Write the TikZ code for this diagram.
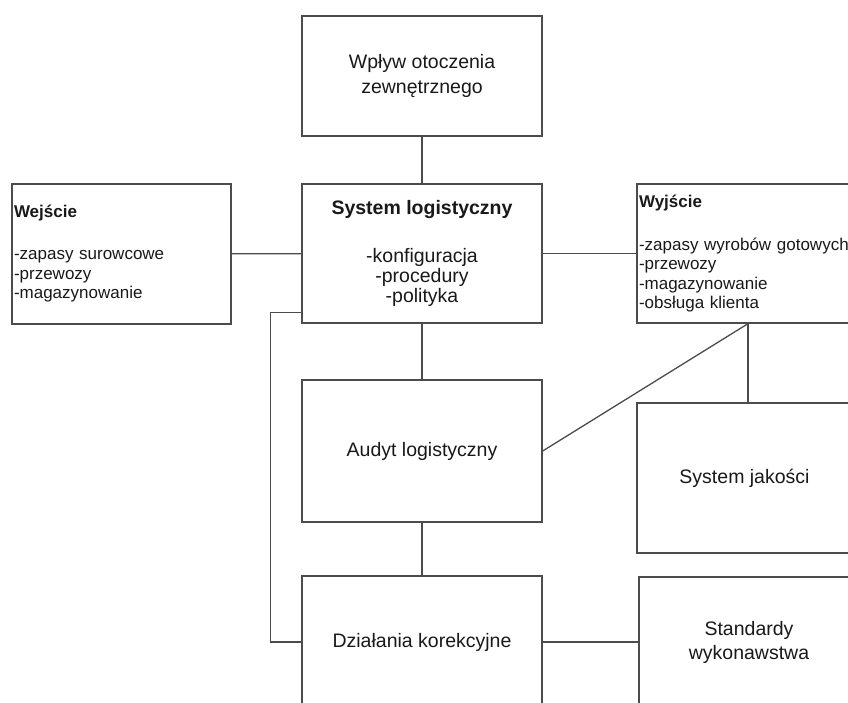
\documentclass[tikz,border=0pt]{standalone}
\usepackage{fontspec}
\setmainfont{Liberation Sans}

\begin{document}
\begin{tikzpicture}[x=1pt, y=-1pt,
  box/.style={draw=black!70, line width=1.3pt, align=center, text=black!90,
    font=\fontsize{19.5}{25}\selectfont},
  listbox/.style={draw=black!70, line width=1.3pt, align=left, inner sep=2pt,
    text=black!90, font=\fontsize{17}{19.5}\selectfont},
  link/.style={draw=black!70, line width=1.3pt}]
\path[use as bounding box, clip] (0,0) rectangle (848,702);
\fill[white] (0,0) rectangle (848,702);
\node[box, minimum width=240pt, minimum height=120pt] (otocz) at (422,76) {Wpływ otoczenia\\zewnętrznego};
\node[box, minimum width=240pt, minimum height=139pt, font=\fontsize{19.5}{20}\selectfont] (system) at (422,253.5)
  {\textbf{System logistyczny}\\[28pt]-konfiguracja\\-procedury\\-polityka};
\node[listbox, text width=215pt, minimum height=140pt] (wejscie) at (121.5,254)
  {\textbf{Wejście}\\[22.5pt]-zapasy surowcowe\\-przewozy\\-magazynowanie};
\node[listbox, text width=218pt, minimum height=139pt] (wyjscie) at (748,253.5)
  {\textbf{Wyjście}\\[23.5pt]-zapasy wyrobów gotowych\\-przewozy\\-magazynowanie\\-obsługa klienta};
\node[box, minimum width=240pt, minimum height=142pt] (audyt) at (422,451) {Audyt logistyczny};
\node[box, minimum width=215pt, minimum height=150pt] (jakosc) at (744.5,478) {System jakości};
\node[box, minimum width=240pt, minimum height=132pt] (dzialania) at (422,642) {Działania korekcyjne};
\node[box, minimum width=220pt, minimum height=130pt, font=\fontsize{19.5}{24}\selectfont] (standardy) at (749,642) {Standardy\\wykonawstwa};
\draw[link] (otocz) -- (system);
\draw[link] (wejscie) -- (system);
\draw[link] (system) -- (wyjscie);
\draw[link] (system) -- (audyt);
\draw[link] (audyt) -- (dzialania);
\draw[link] (audyt.east) -- (wyjscie.south);
\draw[link] (wyjscie.south) -- (wyjscie.south |- jakosc.north);
\draw[link] ([yshift=11pt]system.south west) -- ++(-31,0) |- (dzialania.west);
\draw[link] (dzialania) -- (standardy);
\end{tikzpicture}
\end{document}
